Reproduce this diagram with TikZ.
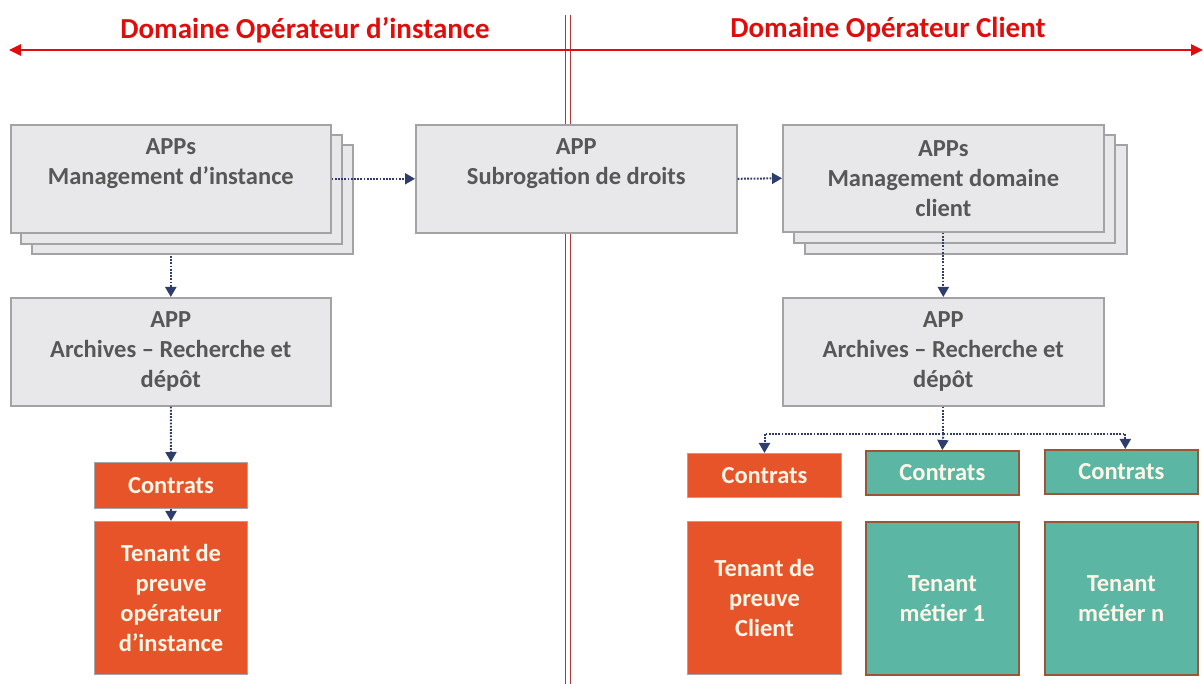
\documentclass[tikz,border=0pt]{standalone}
\usepackage{fontspec}
\setmainfont{Carlito}
\usetikzlibrary{arrows.meta,positioning,calc}
\pgfdeclarelayer{bg}
\pgfsetlayers{bg,main}
\definecolor{boxfill}{HTML}{E8E8EA}
\definecolor{boxline}{HTML}{A3A3A5}
\definecolor{boxtext}{HTML}{575757}
\definecolor{orangef}{HTML}{E8542A}
\definecolor{tealf}{HTML}{5BB7A4}
\definecolor{brownl}{HTML}{9A5636}
\definecolor{navy}{HTML}{2E3D6C}
\definecolor{redt}{HTML}{E00D0D}
\definecolor{redv}{HTML}{B0373C}
\definecolor{cream}{HTML}{FFF6E8}
\tikzset{
  graybox/.style={draw=boxline, line width=1.6pt, fill=boxfill, inner sep=0pt, anchor=north west},
  boxlabel/.style={text=boxtext, font=\fontsize{24.5}{30}\selectfont\bfseries, align=center},
  orangebox/.style={draw=gray!70, line width=1pt, fill=orangef, inner sep=0pt, anchor=north west,
     text=cream, font=\fontsize{24.5}{30}\selectfont\bfseries, align=center},
  tealbox/.style={draw=brownl, line width=1.6pt, fill=tealf, inner sep=0pt, anchor=north west,
     text=cream, font=\fontsize{24.5}{30}\selectfont\bfseries, align=center},
  arr/.style={draw=navy, line width=2pt, dash pattern=on 1.8pt off 1.4pt,
     -{Triangle[width=11pt,length=10pt,fill=navy]}},
  arrline/.style={draw=navy, line width=2pt, dash pattern=on 1.8pt off 1.4pt},
  title/.style={text=redt, font=\fontsize{29}{34}\selectfont\bfseries}
}
\newcommand{\gbox}[5]{% name, x1,y1,x2,y2
  \node[graybox, minimum width={#4-#2}, minimum height={#5-#3}] (#1) at (#2,#3) {};}
\begin{document}
\begin{tikzpicture}[x=1pt,y=-1pt]
\useasboundingbox (0,0) rectangle (1203,684);
% domain separators
\draw[redv, line width=1.1pt] (565.5,15) coordinate (v1t) -- (565.5,684) coordinate (v1b);
\draw[redv, line width=1.1pt] (570.5,15) coordinate (v2t) -- (570.5,684) coordinate (v2b);
\coordinate (hl) at (9,50);
\coordinate (hr) at (1203,50);
\draw[redt, line width=2.6pt, {Triangle[width=11pt,length=12pt]}-{Triangle[width=11pt,length=12pt]}] (hl) -- (hr);
\node[title] (t1) at (305,30) {Domaine Opérateur d’instance};
\node[title] (t2) at (888,30) {Domaine Opérateur Client};
% management instance stack
\gbox{mi3}{31}{144}{352}{253}
\gbox{mi2}{20}{134}{341}{243}
\gbox{mi}{10}{124}{330}{232}
\node[boxlabel] (mil) at ($(mi.center)+(0,-15)$) {APPs\\Management d’instance};
% subrogation
\gbox{sub}{415}{124}{736}{232}
\node[boxlabel] (subl) at ($(sub.center)+(0,-15)$) {APP\\Subrogation de droits};
% management client stack
\gbox{mc3}{804}{144}{1126}{253}
\gbox{mc2}{793}{134}{1114}{242}
\gbox{mc}{782}{124}{1103}{231}
\node[boxlabel] (mcl) at (mc.center) {APPs\\Management domaine\\client};
% archives
\gbox{al}{10}{297}{330}{405}
\node[boxlabel] (all) at (al.center) {APP\\Archives – Recherche et\\dépôt};
\gbox{ar}{782}{297}{1103}{405}
\node[boxlabel] (arl) at (ar.center) {APP\\Archives – Recherche et\\dépôt};
% left bottom
\node[orangebox, minimum width=153, minimum height=46] (cl) at (94,462) {Contrats};
\node[orangebox, minimum width=153, minimum height=153] (tl) at (94,521) {Tenant de\\preuve\\opérateur\\d’instance};
% right bottom
\node[orangebox, minimum width=154, minimum height=44] (cc) at (687,453) {Contrats};
\node[tealbox, minimum width=153, minimum height=44] (c1) at (865,450) {Contrats};
\node[tealbox, minimum width=153, minimum height=44] (c2) at (1044,449) {Contrats};
\node[orangebox, minimum width=154, minimum height=153] (tc) at (687,521) {Tenant de\\preuve\\Client};
\node[tealbox, minimum width=153, minimum height=153] (t1b) at (865,521) {Tenant\\métier 1};
\node[tealbox, minimum width=153, minimum height=153] (t2b) at (1044,521) {Tenant\\métier n};
% connectors
\begin{pgfonlayer}{bg}
\draw[arr] (mi.south) -- (al.north);
\end{pgfonlayer}
\draw[arr] (mi.east) -- (sub.west);
\draw[arr] (sub.east) -- (mc.west);
\draw[arr] (mc.south) -- (ar.north);
\draw[arr] (al.south) -- (cl.north);
\draw[arr] (cl.south) -- (tl.north);
\coordinate (j) at ($(ar.south)+(0,27)$);
\draw[arrline] (ar.south) -- (j);
\draw[arr] (j) -- (c1.north);
\draw[arr] (j) -| (cc.north);
\draw[arr] (j) -| ($(c2.north)+(4,0)$);
\end{tikzpicture}
\end{document}
